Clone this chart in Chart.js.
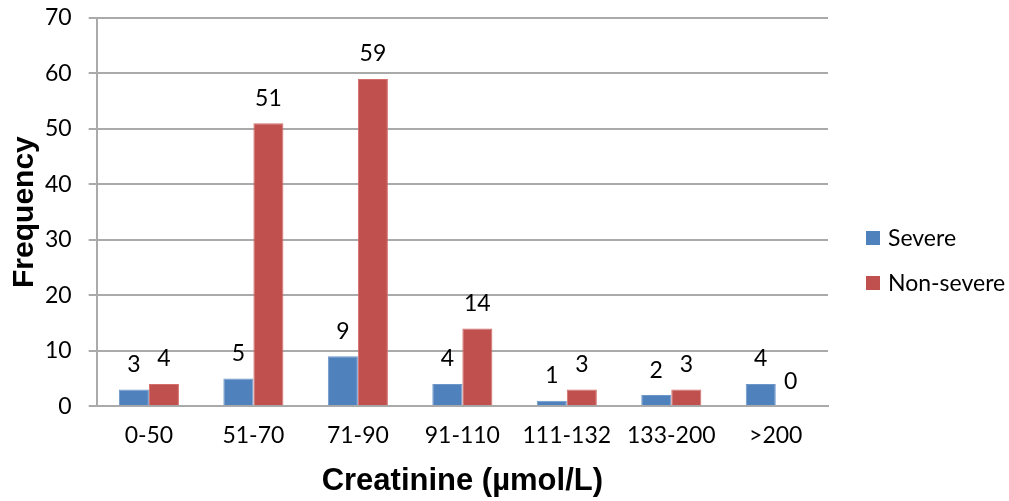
<!DOCTYPE html>
<html>
<head>
<meta charset="utf-8">
<script src="https://cdn.jsdelivr.net/npm/chart.js@4/dist/chart.umd.min.js"></script>
<style>
  html, body { margin:0; padding:0; background:#fff; }
  #wrap { width:1009px; height:501px; }
</style>
</head>
<body>
<div id="wrap"><canvas id="chart" width="1009" height="501"></canvas></div>
<script>
const categories = ["0-50", "51-70", "71-90", "91-110", "111-132", "133-200", ">200"];
const severe     = [3, 5, 9, 4, 1, 2, 4];
const nonSevere  = [4, 51, 59, 14, 3, 3, 0];
const yTicks     = [0, 10, 20, 30, 40, 50, 60, 70];
const seriesNames  = ["Severe", "Non-severe"];
const seriesColors = ["#4F81BD", "#C0504D"];

const FONT = "Lato, 'Open Sans', sans-serif";
const TITLE_FONT = "'Liberation Sans', Arial, sans-serif";
const GRID = "#aaaaaa";

// numbers above each bar, like the office chart
const barLabels = {
  id: "barLabels",
  afterDatasetsDraw(chart){
    const ctx = chart.ctx;
    ctx.save();
    ctx.font = "23px " + FONT;
    ctx.fillStyle = "#000";
    ctx.textAlign = "center";
    ctx.textBaseline = "middle";
    chart.data.datasets.forEach((ds, i) => {
      chart.getDatasetMeta(i).data.forEach((bar, j) => {
        ctx.fillText(String(ds.data[j]), bar.x, bar.y - 25);
      });
    });
    ctx.restore();
  }
};

// legend sits in the right margin, a bit away from the plot
const sideLegend = {
  id: "sideLegend",
  afterDraw(chart){
    const ctx = chart.ctx;
    const area = chart.chartArea;
    const x = area.right + 38;
    ctx.save();
    ctx.font = "23px " + FONT;
    ctx.textBaseline = "middle";
    chart.data.datasets.forEach((ds, i) => {
      const y = area.top + 220 + i * 45;
      ctx.fillStyle = ds.backgroundColor;
      ctx.fillRect(x, y - 7, 14, 14);
      ctx.fillStyle = "#000";
      ctx.fillText(ds.label, x + 22, y + 1);
    });
    ctx.restore();
  }
};

new Chart(document.getElementById("chart"), {
  type: "bar",
  data: {
    labels: categories,
    datasets: [
      { label: seriesNames[0], data: severe, backgroundColor: seriesColors[0], borderColor: "#6d96c8", borderWidth: 1 },
      { label: seriesNames[1], data: nonSevere, backgroundColor: seriesColors[1], borderColor: "#d26e6b", borderWidth: 1 }
    ]
  },
  options: {
    responsive: false,
    animation: false,
    layout: { padding: { top: 0, right: 181, bottom: 0, left: 7 } },
    datasets: { bar: { categoryPercentage: 0.575, barPercentage: 1 } },
    plugins: {
      legend: { display: false },
      tooltip: { enabled: false }
    },
    scales: {
      x: {
        grid: { display: false, drawTicks: false },
        border: { color: GRID, width: 2 },
        ticks: { color: "#000", padding: 16, font: { size: 23, family: FONT } },
        title: {
          display: true, text: "Creatinine (µmol/L)", color: "#000",
          font: { size: 31, weight: "bold", family: TITLE_FONT },
          padding: { top: -3, bottom: 1 }
        }
      },
      y: {
        min: 0, max: 70,
        afterBuildTicks(axis){ axis.ticks = yTicks.map(v => ({ value: v })); },
        // tick padding gets added on top too, the "70" label only needs ~18px
        afterFit(axis){ axis.paddingTop = 18; },
        grid: { color: GRID, lineWidth: 2, tickLength: 8 },
        border: { color: GRID, width: 2 },
        ticks: { color: "#000", padding: 17, font: { size: 23, family: FONT } },
        title: {
          display: true, text: "Frequency", color: "#000",
          font: { size: 30, weight: "bold", family: TITLE_FONT },
          padding: { top: 0, bottom: -15 }
        }
      }
    }
  },
  plugins: [barLabels, sideLegend]
});
</script>
</body>
</html>
